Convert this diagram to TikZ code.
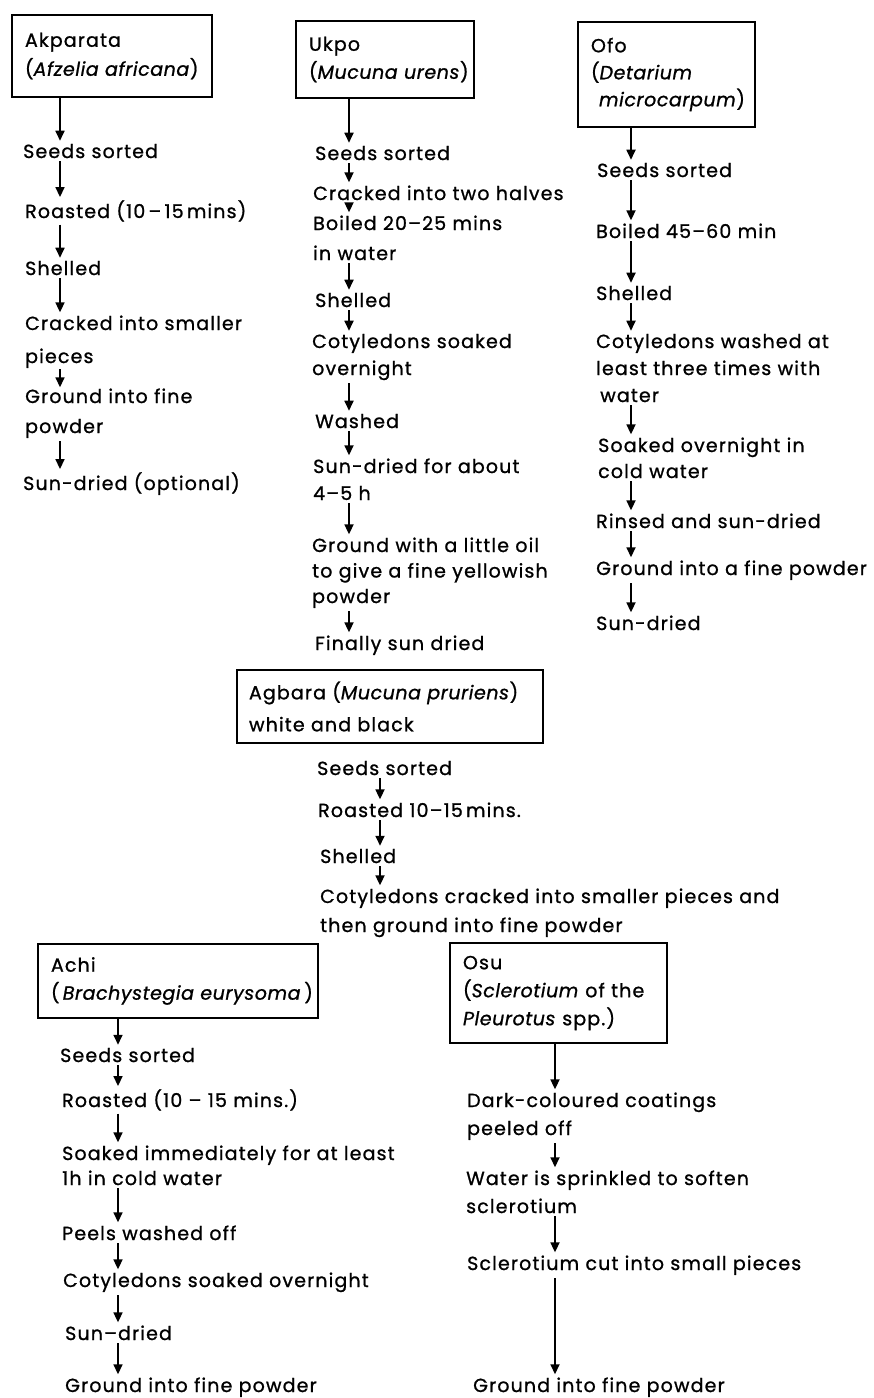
\documentclass[tikz,border=0pt]{standalone}
\usepackage{fontspec}
\setmainfont{Poppins}[LetterSpace=6, FakeBold=1, ItalicFeatures={LetterSpace=3}]
\usetikzlibrary{arrows.meta}
\newcommand{\fs}[1]{\fontsize{19}{#1}\selectfont}
\begin{document}
\begin{tikzpicture}[x=1pt,y=-1pt,
  box/.style={draw, line width=1.4pt, inner xsep=13pt, inner ysep=0pt, align=left, font=\fs{29}},
  stp/.style={anchor=base west, inner sep=0pt, text width=560pt, align=left, font=\fs{27}},
  arr/.style={line width=1.7pt, -{Triangle[width=9pt,length=10pt]}, shorten <=3pt, shorten >=3pt}]
\useasboundingbox (0,0) rectangle (874,1398);

% ---------- Akparata ----------
\node[box, text width=174pt, minimum height=82pt] (akp) at (112,56) {\mbox{Akparata}\\\mbox{(\textit{Afzelia africana})}};
\node[stp] (a1) at (23,158) {Seeds sorted};
\node[stp] (a2) at (25,218) {Roasted (10\,–\,15\,mins)};
\node[stp] (a3) at (25,275) {Shelled};
\node[stp, font=\fs{33}] (a4) at (25,330) {Cracked into smaller\\pieces};
\node[stp, font=\fs{30}] (a5) at (25,403) {Ground into fine\\powder};
\node[stp] (a6) at (23,490) {Sun-dried (optional)};
\coordinate (xa) at (60,0);
\draw[arr, shorten <=0pt] (xa |- akp.south) -- (xa |- a1.north);
\draw[arr] (xa |- a1.south) -- (xa |- a2.north);
\draw[arr] (xa |- a2.south) -- (xa |- a3.north);
\draw[arr] (xa |- a3.south) -- (xa |- a4.north);
\draw[arr, shorten <=1pt, shorten >=1pt] (xa |- a4.south) -- (xa |- a5.north);
\draw[arr] (xa |- a5.south) -- (xa |- a6.north);

% ---------- Ukpo ----------
\node[box, text width=152pt, minimum height=77pt, font=\fs{28}] (ukp) at (385,59.5) {\mbox{Ukpo}\\\mbox{(\textit{Mucuna urens})}};
\node[stp] (b1) at (315,160) {Seeds sorted};
\node[stp] (b2) at (313,200) {Cracked into two halves};
\node[stp, font=\fs{30}] (b3) at (313,230) {Boiled 20–25 mins\\in water};
\node[stp] (b4) at (315,307) {Shelled};
\node[stp] (b5) at (312,348) {Cotyledons soaked\\overnight};
\node[stp] (b6) at (315,428) {Washed};
\node[stp] (b7) at (313,473) {Sun-dried for about\\4–5 h};
\node[stp, font=\fs{25.5}] (b8) at (312,552) {Ground with a little oil\\to give a fine yellowish\\powder};
\node[stp] (b9) at (315,650) {Finally sun dried};
\coordinate (xb) at (349,0);
\draw[arr, shorten <=0pt] (xb |- ukp.south) -- (xb |- b1.north);
\draw[arr] (xb |- b1.south) -- (xb |- b2.north);
\draw[arr] (xb |- b2.south) -- (xb |- b3.north);
\draw[arr] (xb |- b3.south) -- (xb |- b4.north);
\draw[arr] (xb |- b4.south) -- (xb |- b5.north);
\draw[arr] (xb |- b5.south) -- (xb |- b6.north);
\draw[arr] (xb |- b6.south) -- (xb |- b7.north);
\draw[arr] (xb |- b7.south) -- (xb |- b8.north);
\draw[arr] (xb |- b8.south) -- (xb |- b9.north);

% ---------- Ofo ----------
\node[box, text width=151pt, minimum height=105pt, font=\fs{27}] (ofo) at (666.5,74.5) {\mbox{Ofo}\\\mbox{(\textit{Detarium}}\\\mbox{\hspace*{8pt}\textit{microcarpum})}};
\node[stp] (c1) at (597,177) {Seeds sorted};
\node[stp] (c2) at (596,238) {Boiled 45–60 min};
\node[stp] (c3) at (596,300) {Shelled};
\node[stp] (c4) at (596,348) {Cotyledons washed at\\least three times with\\\hspace*{4pt}water};
\node[stp, font=\fs{26}] (c5) at (598,452) {Soaked overnight in\\cold water};
\node[stp] (c6) at (596,528) {Rinsed and sun-dried};
\node[stp] (c7) at (596,575) {Ground into a fine powder};
\node[stp] (c8) at (596,630) {Sun-dried};
\coordinate (xc) at (631,0);
\draw[arr, shorten <=0pt] (xc |- ofo.south) -- (xc |- c1.north);
\draw[arr] (xc |- c1.south) -- (xc |- c2.north);
\draw[arr] (xc |- c2.south) -- (xc |- c3.north);
\draw[arr] (xc |- c3.south) -- (xc |- c4.north);
\draw[arr] (xc |- c4.south) -- (xc |- c5.north);
\draw[arr] (xc |- c5.south) -- (xc |- c6.north);
\draw[arr] (xc |- c6.south) -- (xc |- c7.north);
\draw[arr] (xc |- c7.south) -- (xc |- c8.north);

% ---------- Agbara ----------
\node[box, inner xsep=12pt, text width=282pt, minimum height=73pt, font=\fs{32}] (agb) at (390,706.5) {\mbox{Agbara (\textit{Mucuna pruriens})}\\white and black};
\node[stp] (d1) at (317,775) {Seeds sorted};
\node[stp] (d2) at (318,817) {Roasted 10–15\,mins.};
\node[stp] (d3) at (320,863) {Shelled};
\node[stp, font=\fs{29}] (d4) at (320,903) {Cotyledons cracked into smaller pieces and\\then ground into fine powder};
\coordinate (xd) at (380,0);
\draw[arr] (xd |- d1.south) -- (xd |- d2.north);
\draw[arr] (xd |- d2.south) -- (xd |- d3.north);
\draw[arr] (xd |- d3.south) -- (xd |- d4.north);

% ---------- Achi ----------
\node[box, text width=254pt, minimum height=74pt, font=\fs{28}] (achi) at (178,981) {\mbox{Achi}\\\mbox{(\,\textit{Brachystegia eurysoma}\,)}};
\node[stp] (e1) at (60,1062) {Seeds sorted};
\node[stp] (e2) at (62,1107) {Roasted (10 – 15 mins.)};
\node[stp, font=\fs{25}] (e3) at (62,1160) {Soaked immediately for at least\\1h in cold water};
\node[stp] (e4) at (62,1240) {Peels washed off};
\node[stp] (e5) at (63,1287) {Cotyledons soaked overnight};
\node[stp] (e6) at (65,1340) {Sun–dried};
\node[stp] (e7) at (65,1392) {Ground into fine powder};
\coordinate (xe) at (118,0);
\draw[arr, shorten <=0pt] (xe |- achi.south) -- (xe |- e1.north);
\draw[arr] (xe |- e1.south) -- (xe |- e2.north);
\draw[arr] (xe |- e2.south) -- (xe |- e3.north);
\draw[arr] (xe |- e3.south) -- (xe |- e4.north);
\draw[arr] (xe |- e4.south) -- (xe |- e5.north);
\draw[arr] (xe |- e5.south) -- (xe |- e6.north);
\draw[arr] (xe |- e6.south) -- (xe |- e7.north);

% ---------- Osu ----------
\node[box, text width=191pt, minimum height=100pt, font=\fs{28}] (osu) at (558.5,993) {\mbox{Osu}\\\mbox{(\textit{Sclerotium} of the}\\\mbox{\textit{Pleurotus} spp.)}};
\node[stp, font=\fs{28}] (f1) at (467,1107) {Dark-coloured coatings\\peeled off};
\node[stp, font=\fs{28}] (f2) at (466,1185) {Water is sprinkled to soften\\sclerotium};
\node[stp] (f3) at (467,1270) {Sclerotium cut into small pieces};
\node[stp] (f4) at (473,1392) {Ground into fine powder};
\coordinate (xf) at (555,0);
\draw[arr, shorten <=0pt] (xf |- osu.south) -- (xf |- f1.north);
\draw[arr] (xf |- f1.south) -- (xf |- f2.north);
\draw[arr] (xf |- f2.south) -- (xf |- f3.north);
\draw[arr] (xf |- f3.south) -- (xf |- f4.north);
\end{tikzpicture}
\end{document}
